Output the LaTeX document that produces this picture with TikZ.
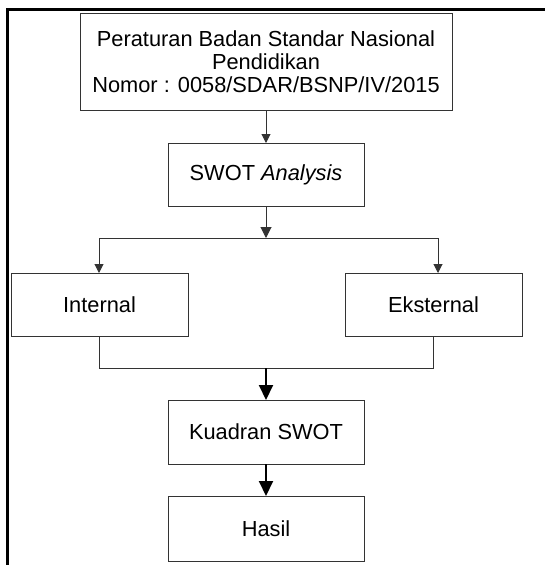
\documentclass[tikz,border=0pt]{standalone}
\usepackage{fontspec}
\setmainfont{Liberation Sans}
\usetikzlibrary{arrows.meta}
\begin{document}
\begin{tikzpicture}[x=1pt,y=-1pt,
  box/.style={draw=black!80, line width=1pt, inner sep=0pt, outer sep=0pt, align=center,
    font=\fontsize{21.8}{22.8}\selectfont},
  ln/.style={draw=black!80, line width=1pt},
  arrs/.style={ln, -{Triangle[width=9pt,length=9pt]}},
  arrm/.style={ln, -{Triangle[width=11pt,length=11pt]}},
  arrb/.style={draw=black, line width=2pt, -{Triangle[width=14pt,length=15pt]}}]
\useasboundingbox (0,0) rectangle (545,565);
% frame
\draw[line width=3pt, line cap=rect] (7.5,566) -- (7.5,9.5) -- (546,9.5);
% boxes
\node[box, minimum width=372pt, minimum height=97pt] (top) at (266,61.5)
  {Peraturan Badan Standar Nasional\\Pendidikan\\Nomor : 0058/SDAR/BSNP/IV/2015};
\node[box, minimum width=196pt, minimum height=63pt] (swot) at (266,174.5) {SWOT \textit{Analysis}};
\node[box, minimum width=177pt, minimum height=63pt] (int) at (99.5,304.5) {Internal};
\node[box, minimum width=177pt, minimum height=63pt] (ext) at (433.5,304.5) {Eksternal};
\node[box, minimum width=196pt, minimum height=64pt] (kuad) at (266,432) {Kuadran SWOT};
\node[box, minimum width=196pt, minimum height=65pt] (hasil) at (266,528.5) {Hasil};
% connectors
\draw[arrs] (top.south) -- (swot.north);
\coordinate (sm) at (266,238);
\coordinate (sl) at (99,238);
\coordinate (sr) at (438,238);
\draw[arrm] (swot.south) -- (sm);
\draw[ln] (sl) -- (sr);
\draw[arrs] (sl) -- (sl |- int.north);
\draw[arrs] (sr) -- (sr |- ext.north);
\coordinate (jl) at (99,368);
\coordinate (jr) at (433,368);
\coordinate (jm) at (266,368);
\draw[ln] (jl |- int.south) -- (jl) -- (jr) -- (jr |- ext.south);
\draw[arrb] (jm) -- (kuad.north);
\draw[arrb] (kuad.south) -- (hasil.north);
\end{tikzpicture}
\end{document}
